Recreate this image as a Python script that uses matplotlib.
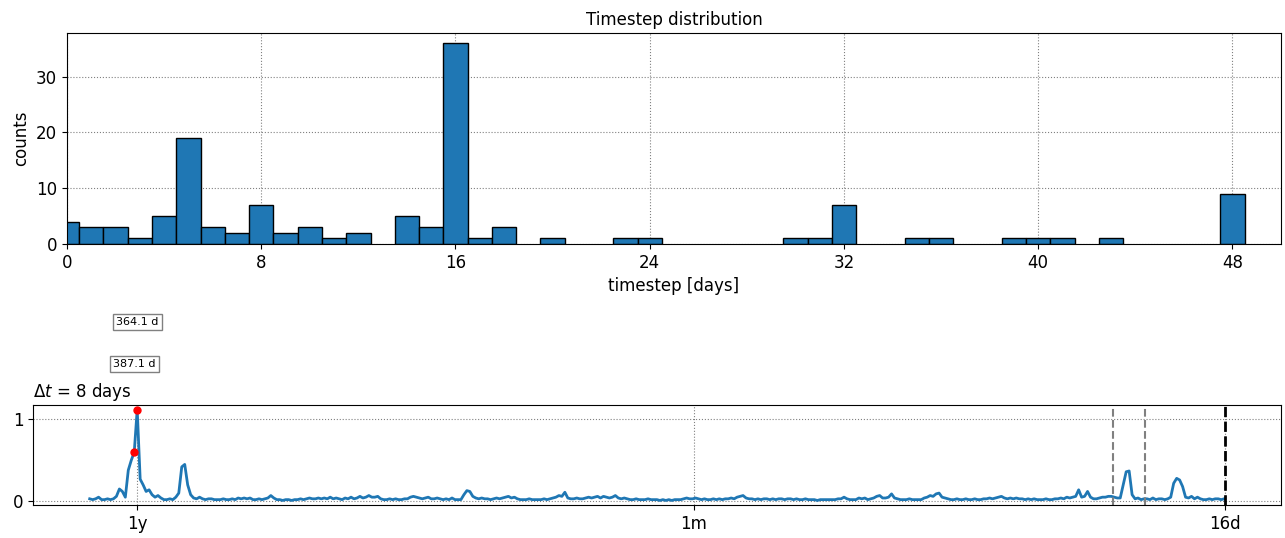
"""Timestep histogram plus the periodogram of the 8-day resampled series."""
import numpy as np
import matplotlib
matplotlib.use("Agg")
import matplotlib.pyplot as plt
from matplotlib.transforms import blended_transform_factory

# --- histogram of timesteps (days -> counts), empty bins left out
step_days = [0, 1, 2, 3, 4, 5, 6, 7, 8, 9, 10, 11, 12, 14, 15, 16, 17, 18, 20,
             23, 24, 30, 31, 32, 35, 36, 39, 40, 41, 43, 48]
step_counts = [4, 3, 3, 1, 5, 19, 3, 2, 7, 2, 3, 1, 2, 5, 3, 36, 1, 3, 1,
               1, 1, 1, 1, 7, 1, 1, 1, 1, 1, 1, 9]

# --- periodogram, dt = 8 days; frequency grid in 1/day
freq_start = 0.000135
freq_step = 0.0001632
power = [
    0.03, 0.02, 0.03, 0.05, 0.02, 0.02, 0.03, 0.02, 0.03, 0.06,
    0.15, 0.12, 0.05, 0.38, 0.50, 0.60, 1.12, 0.27, 0.20, 0.12,
    0.14, 0.08, 0.05, 0.07, 0.04, 0.02, 0.02, 0.03, 0.02, 0.05,
    0.10, 0.42, 0.45, 0.20, 0.08, 0.04, 0.03, 0.05, 0.03, 0.02,
    0.03, 0.03, 0.02, 0.02, 0.02, 0.03, 0.02, 0.02, 0.03, 0.02,
    0.04, 0.03, 0.04, 0.03, 0.04, 0.02, 0.02, 0.03, 0.02, 0.03,
    0.04, 0.07, 0.04, 0.02, 0.02, 0.01, 0.02, 0.02, 0.01, 0.02,
    0.02, 0.03, 0.02, 0.03, 0.04, 0.03, 0.03, 0.04, 0.03, 0.04,
    0.03, 0.05, 0.03, 0.04, 0.03, 0.02, 0.04, 0.03, 0.05, 0.03,
    0.04, 0.06, 0.04, 0.05, 0.07, 0.05, 0.05, 0.06, 0.03, 0.02,
    0.02, 0.03, 0.02, 0.03, 0.02, 0.02, 0.03, 0.03, 0.05, 0.06,
    0.05, 0.04, 0.03, 0.04, 0.05, 0.03, 0.03, 0.04, 0.03, 0.02,
    0.03, 0.02, 0.04, 0.02, 0.02, 0.02, 0.08, 0.13, 0.12, 0.06,
    0.04, 0.03, 0.04, 0.03, 0.03, 0.02, 0.03, 0.04, 0.03, 0.04,
    0.05, 0.06, 0.04, 0.05, 0.03, 0.02, 0.02, 0.02, 0.03, 0.02,
    0.02, 0.02, 0.02, 0.03, 0.02, 0.03, 0.04, 0.05, 0.07, 0.06,
    0.11, 0.04, 0.03, 0.03, 0.04, 0.03, 0.03, 0.04, 0.05, 0.04,
    0.05, 0.06, 0.04, 0.06, 0.05, 0.04, 0.05, 0.07, 0.04, 0.03,
    0.04, 0.03, 0.02, 0.02, 0.03, 0.02, 0.02, 0.02, 0.03, 0.02,
    0.02, 0.02, 0.01, 0.02, 0.01, 0.02, 0.01, 0.02, 0.02, 0.02,
    0.03, 0.04, 0.03, 0.03, 0.04, 0.03, 0.02, 0.03, 0.02, 0.02,
    0.03, 0.02, 0.03, 0.02, 0.03, 0.03, 0.04, 0.03, 0.05, 0.06,
    0.07, 0.04, 0.03, 0.03, 0.02, 0.03, 0.02, 0.03, 0.03, 0.02,
    0.03, 0.02, 0.03, 0.03, 0.02, 0.03, 0.03, 0.02, 0.03, 0.02,
    0.02, 0.03, 0.02, 0.02, 0.02, 0.01, 0.02, 0.02, 0.02, 0.02,
    0.02, 0.02, 0.03, 0.03, 0.05, 0.03, 0.02, 0.02, 0.02, 0.04,
    0.03, 0.04, 0.02, 0.03, 0.04, 0.06, 0.07, 0.04, 0.04, 0.05,
    0.09, 0.04, 0.03, 0.02, 0.02, 0.02, 0.03, 0.02, 0.02, 0.02,
    0.02, 0.04, 0.05, 0.07, 0.06, 0.09, 0.10, 0.05, 0.04, 0.03,
    0.02, 0.02, 0.03, 0.02, 0.02, 0.03, 0.02, 0.02, 0.03, 0.02,
    0.02, 0.03, 0.03, 0.04, 0.03, 0.04, 0.05, 0.06, 0.04, 0.03,
    0.04, 0.03, 0.04, 0.03, 0.03, 0.02, 0.03, 0.02, 0.03, 0.02,
    0.02, 0.02, 0.03, 0.02, 0.02, 0.03, 0.03, 0.04, 0.03, 0.05,
    0.04, 0.05, 0.06, 0.14, 0.05, 0.06, 0.12, 0.05, 0.03, 0.03,
    0.04, 0.05, 0.05, 0.06, 0.06, 0.05, 0.04, 0.04, 0.20, 0.36,
    0.37, 0.08, 0.03, 0.04, 0.02, 0.03, 0.03, 0.02, 0.04, 0.02,
    0.03, 0.03, 0.02, 0.03, 0.05, 0.22, 0.28, 0.26, 0.18, 0.05,
    0.04, 0.06, 0.03, 0.05, 0.03, 0.02, 0.02, 0.03, 0.02, 0.03,
    0.03, 0.02, 0.03,
]
peak_periods = [364.1, 387.1]          # days, marked in red
peak_power = [1.12, 0.60]
band_periods = [17.74, 17.2]           # grey dashed markers
nyquist_period = 16.0                  # 2 * dt
period_ticks = [365, 30, 16]
period_labels = ["1y", "1m", "16d"]

W, H = 1285, 538
fig = plt.figure(figsize=(W / 100, H / 100), dpi=100)

# top: timestep distribution
ax1 = fig.add_axes([67 / W, 1 - 244 / H, (1281 - 67) / W, (244 - 33) / H])
ax1.bar(step_days, step_counts, width=1, color="#1f77b4", edgecolor="black", lw=1)
ax1.set_xlim(0, 50)
ax1.set_xticks(range(0, 49, 8))
ax1.set_yticks([0, 10, 20, 30])
ax1.grid(ls=":", color="gray", lw=0.8)
ax1.set_axisbelow(True)
ax1.set_xlabel("timestep [days]", fontsize=12)
ax1.set_ylabel("counts", fontsize=12)
ax1.set_title("Timestep distribution", fontsize=12)
ax1.tick_params(labelsize=12)

# bottom: periodogram vs frequency
freq = freq_start + freq_step * np.arange(len(power))
ax2 = fig.add_axes([33 / W, 1 - 505 / H, (1281 - 33) / W, (505 - 405) / H])
ax2.plot(freq, power, color="#1f77b4", lw=2)
ax2.plot(1 / np.array(peak_periods), peak_power, "o", color="red", ms=5)
for p in band_periods:
    ax2.axvline(1 / p, color="gray", ls="--", lw=1.5)
ax2.axvline(1 / nyquist_period, color="black", ls="--", lw=2)
ax2.set_xlim(-0.00298, 0.0656)
ax2.set_xticks([1 / p for p in period_ticks])
ax2.set_xticklabels(period_labels)
ax2.set_yticks([0, 1])
ax2.grid(ls=":", color="gray", lw=0.8)
ax2.tick_params(labelsize=12)
ax2.set_title(r"$\Delta t$ = 8 days", loc="left", fontsize=12)

trans = blended_transform_factory(ax2.transData, ax2.transAxes)
for p, yy in zip(peak_periods, [1.83, 1.41]):
    ax2.text(1 / p, yy, f"{p:.1f} d", transform=trans, ha="center", va="center",
             fontsize=8, bbox=dict(boxstyle="square,pad=0.3", fc="white", ec="gray"))

fig.savefig("out.png", dpi=100)
